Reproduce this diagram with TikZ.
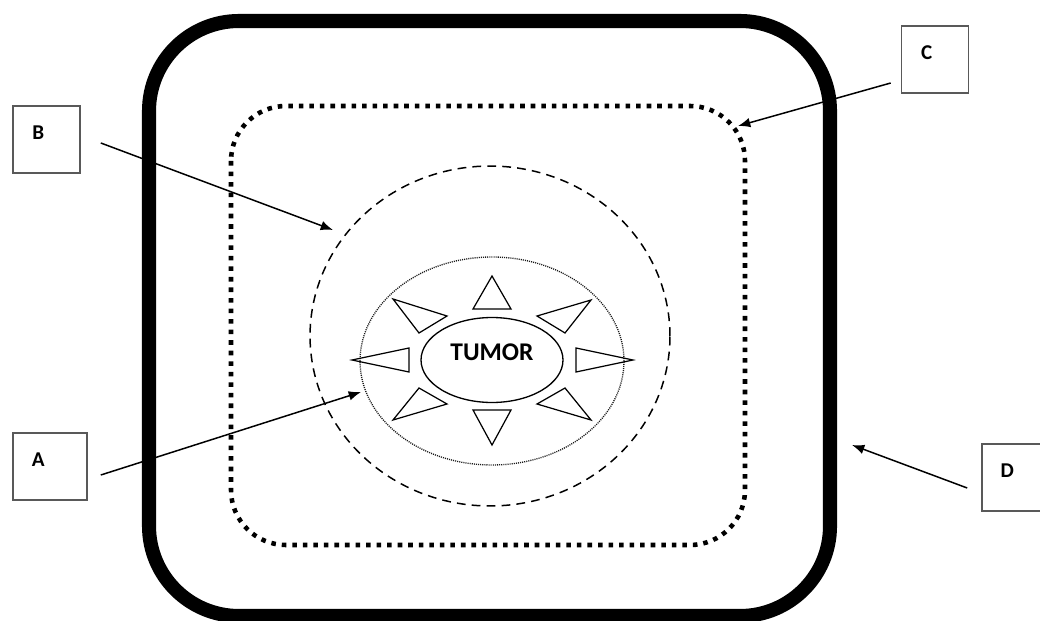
\documentclass[tikz,border=0pt]{standalone}
\usepackage{fontspec}
\setmainfont{Carlito}
\usetikzlibrary{arrows.meta,shapes.geometric}

\tikzset{
    labelbox/.style={draw=black!65, line width=0.9pt, minimum width=1.34cm, minimum height=1.34cm, inner sep=0pt},
    tag/.style={anchor=center, xshift=0.52cm, yshift=-0.55cm, font=\bfseries\fontsize{12}{14}\selectfont},
    pointer/.style={line width=0.85pt, -{Latex[length=7pt,width=5.5pt]}},
    spike/.style={line width=0.7pt, line join=miter},
}

\begin{document}
\begin{tikzpicture}[x=0.02cm, y=-0.02cm]
        \useasboundingbox (0,0) rectangle (1040,621);
        \clip (0,0) rectangle (1040,621);

        % Cadre extérieur
        \draw[line width=8pt, rounded corners=1.8cm] (149,21) rectangle (830,616);

        % Cadre pointillé
        \draw[line width=2.6pt, dash pattern=on 2.6pt off 3.4pt, rounded corners=1.1cm] (231,106) rectangle (745,545);

        % Ellipse en tirets
        \draw[line width=0.85pt, dash pattern=on 5pt off 3.5pt] (490,336) ellipse [x radius=3.6cm, y radius=3.4cm];

        % Ellipse fine
        \draw[line width=0.75pt, black!90, dash pattern=on 0.6pt off 0.6pt] (492,361) ellipse [x radius=2.64cm, y radius=2.08cm];

        % Tumeur
        \node[draw, ellipse, line width=0.75pt, minimum width=2.84cm, minimum height=1.7cm, inner sep=0pt,
              text depth=0.32cm, font=\bfseries\fontsize{14.5}{16}\selectfont] (tumor) at (492,360) {TUMOR};

        % Triangles autour de la tumeur
        \draw[spike] (492,276) -- (473,309) -- (511,309) -- cycle;
        \draw[spike] (492,445) -- (473,410) -- (511,410) -- cycle;
        \draw[spike] (352,360) -- (409,348) -- (409,372) -- cycle;
        \draw[spike] (633,360) -- (576,348) -- (576,372) -- cycle;
        \draw[spike] (393,299) -- (447,316) -- (419,333) -- cycle;
        \draw[spike] (591,300) -- (537,316) -- (565,333) -- cycle;
        \draw[spike] (393,420) -- (447,404) -- (419,388) -- cycle;
        \draw[spike] (591,420) -- (537,404) -- (565,388) -- cycle;

        % Étiquettes
        \node[labelbox, label={[tag]north west:B}] (B) at (46.5,139.5) {};
        \node[labelbox, minimum width=1.48cm, label={[tag]north west:A}] (A) at (50,466.5) {};
        \node[labelbox, label={[tag]north west:C}] (C) at (935,59.5) {};
        \node[labelbox, minimum width=1.36cm, label={[tag]north west:D}] (D) at (1016,477.5) {};

        % Flèches
        \coordinate (tipB) at (333,230);
        \coordinate (tipA) at (361,392);
        \coordinate (tipC) at (738,126);
        \coordinate (tipD) at (852,445);
        \draw[pointer] ([shift={(20,3.5)}]B.east) -- (tipB);
        \draw[pointer] ([shift={(13,8.5)}]A.east) -- (tipA);
        \draw[pointer] ([shift={(-10,23.5)}]C.west) -- (tipC);
        \draw[pointer] ([shift={(-14,10.5)}]D.west) -- (tipD);
    \end{tikzpicture}
\end{document}
